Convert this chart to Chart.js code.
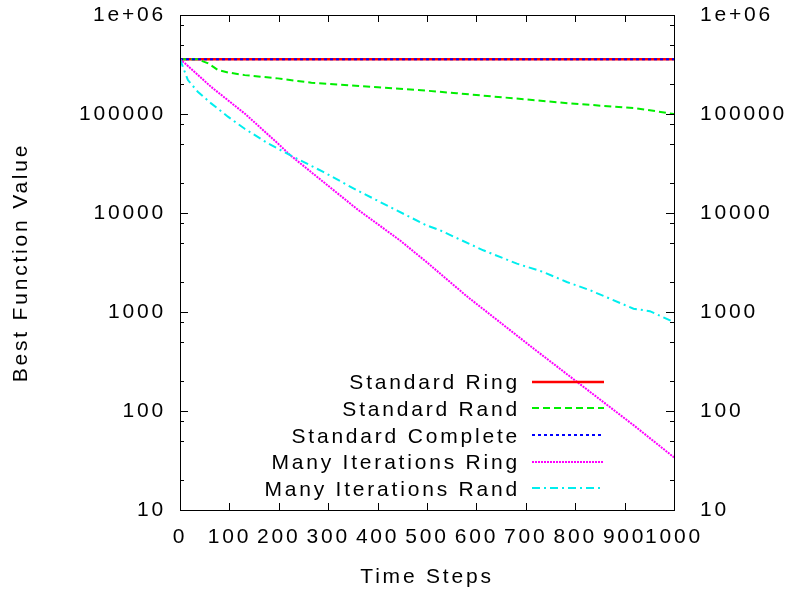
<!DOCTYPE html>
<html>
<head>
<meta charset="utf-8">
<title>Best Function Value</title>
<script src="https://cdn.jsdelivr.net/npm/chart.js@4/dist/chart.umd.min.js"></script>
<style>
  html, body { margin: 0; padding: 0; background: #fff; }
  canvas { display: block; }
</style>
</head>
<body>
<canvas id="fitnessChart" width="787" height="592"></canvas>
<script>
// run series: time step -> best value found so far
const seriesNames = ["Standard Ring", "Standard Rand", "Standard Complete", "Many Iterations Ring", "Many Iterations Rand"];

const ringSteps = [0, 1000];
const ringValues = [357000, 357000];

const randSteps = [0, 36, 57, 77, 97, 131, 198, 266, 333, 401, 482, 560, 655, 790, 925, 1000];
const randValues = [357000, 357000, 325000, 278000, 263000, 247000, 229000, 207000, 196000, 186000, 175000, 162000, 147000, 128000, 114000, 100000];

const completeSteps = [0, 1000];
const completeValues = [357000, 357000];

const manyRingSteps = [0, 10, 63, 131, 198, 223, 358, 445, 499, 580, 715, 803, 918, 1000];
const manyRingValues = [357000, 325000, 188000, 101000, 50500, 38400, 11000, 5300, 3200, 1450, 430, 198, 72, 34];

const manyRandSteps = [0, 16, 36, 63, 97, 131, 178, 223, 290, 358, 425, 499, 526, 614, 682, 735, 783, 830, 918, 951, 1000];
const manyRandValues = [357000, 220000, 168000, 128000, 94000, 71000, 50500, 38400, 26000, 17000, 11500, 7500, 6700, 4200, 3080, 2540, 2010, 1660, 1080, 1020, 790];

// axis ticks
const xTickValues = [0, 100, 200, 300, 400, 500, 600, 700, 800, 900, 1000];
const yMajorTicks = [10, 100, 1000, 10000, 100000, 1000000];
const yTickLabels = ["10", "100", "1000", "10000", "100000", "1e+06"];
const yMinorFactors = [2, 5, 8];

function points(steps, values) {
    return steps.map((s, i) => ({ x: s, y: values[i] }));
}

const SPACING = "2.8px";

function logTicks() {
    const ticks = [];
    yMajorTicks.forEach((v, i) => {
        ticks.push({ value: v });
        if (i < yMajorTicks.length - 1) {
            yMinorFactors.forEach(f => ticks.push({ value: v * f }));
        }
    });
    return ticks;
}

function yLabel(value) {
    const i = yMajorTicks.indexOf(value);
    return i < 0 ? "" : yTickLabels[i];
}

// keep the plot box where the fixed axis sizes put it
function fixedSize(size, vertical) {
    return scale => {
        if (vertical) scale.width = size; else scale.height = size;
        scale.paddingTop = 0;
        scale.paddingBottom = 0;
        scale.paddingLeft = 0;
        scale.paddingRight = 0;
    };
}

// border box, inward ticks on all four sides, and the key in the lower right
const gnuplotFrame = {
    id: "gnuplotFrame",
    beforeLayout(chart) { chart.ctx.letterSpacing = SPACING; },
    beforeDraw(chart) { chart.ctx.letterSpacing = SPACING; },
    afterDraw(chart) {
        const ctx = chart.ctx;
        const { left, right, top, bottom } = chart.chartArea;
        const xs = chart.scales.x, ys = chart.scales.y;
        ctx.save();
        ctx.strokeStyle = "#000";
        ctx.lineWidth = 1;
        ctx.setLineDash([]);
        ctx.beginPath();
        xTickValues.forEach(v => {
            const px = Math.round(xs.getPixelForValue(v)) + 0.5;
            ctx.moveTo(px, bottom); ctx.lineTo(px, bottom - 7);
            ctx.moveTo(px, top); ctx.lineTo(px, top + 7);
        });
        ys.ticks.forEach(t => {
            const len = yMajorTicks.includes(t.value) ? 8 : 4;
            const py = Math.round(ys.getPixelForValue(t.value)) + 0.5;
            ctx.moveTo(left, py); ctx.lineTo(left + len, py);
            ctx.moveTo(right, py); ctx.lineTo(right - len, py);
        });
        ctx.stroke();
        ctx.strokeRect(Math.round(left) + 0.5, Math.round(top) + 0.5, Math.round(right - left), Math.round(bottom - top));

        // key
        const sampleEnd = right - 70;
        const sampleStart = sampleEnd - 72;
        const rowGap = 26.65;
        ctx.font = "21px 'Liberation Sans', Arial, sans-serif";
        ctx.textAlign = "right";
        ctx.textBaseline = "alphabetic";
        ctx.letterSpacing = SPACING;
        chart.data.datasets.forEach((ds, i) => {
            const cy = bottom - 21.7 - (chart.data.datasets.length - 1 - i) * rowGap;
            ctx.fillStyle = "#000";
            ctx.fillText(ds.label, sampleStart - 12, cy + 7.5);
            ctx.strokeStyle = ds.borderColor;
            ctx.lineWidth = ds.borderWidth;
            ctx.setLineDash(ds.borderDash || []);
            ctx.beginPath();
            ctx.moveTo(sampleStart, Math.round(cy));
            ctx.lineTo(sampleEnd, Math.round(cy));
            ctx.stroke();
        });
        ctx.restore();
    }
};

Chart.defaults.font.family = "'Liberation Sans', Arial, sans-serif";
Chart.defaults.font.size = 21;
Chart.defaults.color = "#000";

const lineStyle = (color, width, dash, order) => ({
    borderColor: color,
    backgroundColor: color,
    borderWidth: width,
    borderDash: dash,
    pointRadius: 0,
    tension: 0,
    fill: false,
    order: order
});

new Chart(document.getElementById("fitnessChart"), {
    type: "line",
    data: {
        datasets: [
            { label: seriesNames[0], data: points(ringSteps, ringValues), ...lineStyle("#ff0000", 2.5, [], 5) },
            { label: seriesNames[1], data: points(randSteps, randValues), ...lineStyle("#00ee00", 2, [7, 4], 4) },
            { label: seriesNames[2], data: points(completeSteps, completeValues), ...lineStyle("#0000ff", 2, [3, 3], 3) },
            { label: seriesNames[3], data: points(manyRingSteps, manyRingValues), ...lineStyle("#ff00ff", 2, [2, 1], 2) },
            { label: seriesNames[4], data: points(manyRandSteps, manyRandValues), ...lineStyle("#00eeee", 2, [8, 4, 2, 4], 1) }
        ]
    },
    options: {
        responsive: false,
        animation: false,
        layout: { padding: { top: 15, left: 0, right: 0, bottom: 0 } },
        plugins: {
            legend: { display: false },
            tooltip: { enabled: false }
        },
        scales: {
            x: {
                type: "linear",
                min: 0,
                max: 1000,
                grid: { display: false, drawTicks: false },
                border: { display: false },
                afterBuildTicks: scale => { scale.ticks = xTickValues.map(v => ({ value: v })); },
                afterFit: fixedSize(82, false),
                ticks: { autoSkip: false, maxRotation: 0, padding: 15, callback: v => String(v) },
                title: { display: true, text: "Time Steps", padding: { top: 0, bottom: 2 } }
            },
            y: {
                type: "logarithmic",
                position: "left",
                min: 10,
                max: 1000000,
                grid: { display: false, drawTicks: false },
                border: { display: false },
                afterBuildTicks: scale => { scale.ticks = logTicks(); },
                afterFit: fixedSize(180, true),
                ticks: { autoSkip: false, padding: 14, callback: yLabel },
                title: { display: true, text: "Best Function Value", padding: { top: 9, bottom: 0 } }
            },
            y2: {
                type: "logarithmic",
                position: "right",
                min: 10,
                max: 1000000,
                grid: { display: false, drawTicks: false },
                border: { display: false },
                afterBuildTicks: scale => { scale.ticks = logTicks(); },
                afterFit: fixedSize(113, true),
                ticks: { autoSkip: false, padding: 26, callback: yLabel }
            }
        }
    },
    plugins: [gnuplotFrame]
});
</script>
</body>
</html>
